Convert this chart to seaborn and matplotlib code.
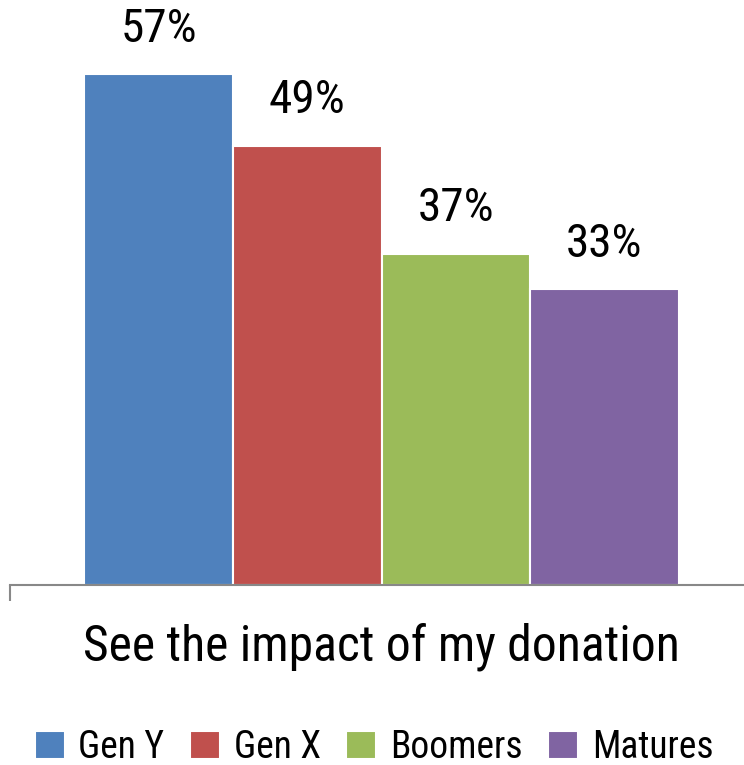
import matplotlib
matplotlib.use("Agg")
import matplotlib.pyplot as plt
import pandas as pd
import seaborn as sns

# Survey results: share of each generation choosing this reason
reason = ["See the impact of my donation"]
generations = ["Gen Y", "Gen X", "Boomers", "Matures"]
shares = [57, 49, 37, 33]
colors = ["#4F81BD", "#C0504D", "#9BBB59", "#8064A2"]

df = pd.DataFrame({
    "reason": reason * len(generations),
    "generation": generations,
    "share": shares,
})

sns.set_style("white")
plt.rcParams["font.family"] = ["Roboto Condensed", "DejaVu Sans"]
plt.rcParams["text.color"] = "black"
plt.rcParams["xtick.color"] = "black"
plt.rcParams["xtick.labelcolor"] = "black"

W, H = 744, 765
fig = plt.figure(figsize=(W / 100, H / 100), dpi=100)
base_px = 585
ax = fig.add_axes([10 / W, (H - base_px) / H, 743 / W, base_px / H])

sns.barplot(data=df, x="reason", y="share", hue="generation",
            palette=colors, edgecolor="white", linewidth=1.5,
            saturation=1, ax=ax)

ax.set_ylim(0, 65.3)
ax.set_xlim(-0.5, 0.5)
ax.set_xlabel("")
ax.set_ylabel("")
ax.set_yticks([])

for side in ("top", "right", "left"):
    ax.spines[side].set_visible(False)
axis_grey = "#888888"
ax.spines["bottom"].set_color(axis_grey)
ax.spines["bottom"].set_linewidth(1.5)

# category label centred, boundary tick marks at the category edges
ax.set_xticks([0])
ax.set_xticklabels(reason, fontsize=35.7)
ax.tick_params(axis="x", which="both", bottom=True)
ax.tick_params(axis="x", which="major", length=0, pad=27, labelcolor="black")
ax.set_xticks([-0.5, 0.5], minor=True)
ax.tick_params(axis="x", which="minor", length=11.5, width=1.5,
               color=axis_grey, direction="out")

for container, val in zip(ax.containers, shares):
    ax.bar_label(container, labels=[f"{val}%"], padding=17, fontsize=34,
                 color="black")

sns.move_legend(ax, loc="center", bbox_to_anchor=(374 / W, (H - 747.5) / H),
                bbox_transform=fig.transFigure, ncol=4, frameon=False,
                title=None, fontsize=27, handlelength=0.8, handleheight=0.8,
                handletextpad=0.37, columnspacing=0.68, borderpad=0,
                borderaxespad=0)
for txt in ax.get_legend().get_texts():
    txt.set_color("black")

fig.savefig("out.png", dpi=100)
